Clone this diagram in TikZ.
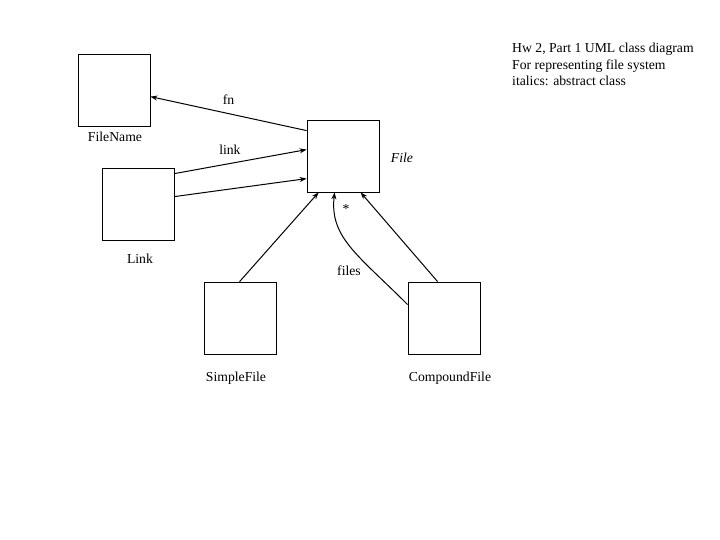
\documentclass[tikz,border=0pt]{standalone}
\usepackage{fontspec}
\setmainfont{Liberation Serif}
\usepackage{tikz}
\usetikzlibrary{arrows.meta, positioning, calc}

\begin{document}
\begin{tikzpicture}[
        x=1pt,y=-1pt,
        font=\fontsize{13.7}{16.5}\selectfont,
        klasse/.style={draw,rectangle,minimum width=72pt,minimum height=72pt,inner sep=0pt,line width=0.8pt},
        pfeil/.style={-{Stealth[length=7pt,width=5pt]},line width=1pt},
        etikett/.style={inner sep=0pt}
    ]
        \useasboundingbox (0,0) rectangle (720,540);

        \node[klasse] (filename) at (114,90) {};
        \node[klasse] (link) at (138,204) {};
        \node[klasse] (file) at (343,156) {};
        \node[klasse] (simplefile) at (240,318) {};
        \node[klasse] (compoundfile) at (444,318) {};

        \node[etikett] (filenamelbl) at (115,137) {FileName};
        \node[etikett] (linklbl) at (140,259) {Link};
        \node[etikett] (filelbl) at (402,158) {\itshape File};
        \node[etikett] (simplefilelbl) at (236,378) {SimpleFile};
        \node[etikett] (compoundfilelbl) at (450,378) {CompoundFile};

        \node[etikett,anchor=north west,align=left] (titel) at (512,43)
            {Hw 2, Part 1 UML class diagram\\For representing file system\\italics: abstract class};

        % Assoziationen
        \draw[pfeil] ([yshift=-11pt]file.north west) -- node[etikett,pos=0.5,above=9pt]{fn} ([yshift=-43pt]filename.north east);
        \draw[pfeil] ([yshift=-6pt]link.north east) -- node[etikett,pos=0.42,above=9pt]{link} ([yshift=-30pt]file.north west);
        \draw[pfeil] ([yshift=-29pt]link.north east) -- ([yshift=-59pt]file.north west);
        \draw[pfeil] ([yshift=-23pt]compoundfile.north west) .. controls +(-50,-50) and +(-5,45) .. ([xshift=28pt]file.south west);
        \node[etikett] (stern) at (346,209) {*};
        \node[etikett] (fileslbl) at (349,271) {files};

        % Vererbung
        \draw[pfeil] ([xshift=36pt]simplefile.north west) -- ([xshift=12pt]file.south west);
        \draw[pfeil] ([xshift=30pt]compoundfile.north west) -- ([xshift=54pt]file.south west);
    \end{tikzpicture}
\end{document}
